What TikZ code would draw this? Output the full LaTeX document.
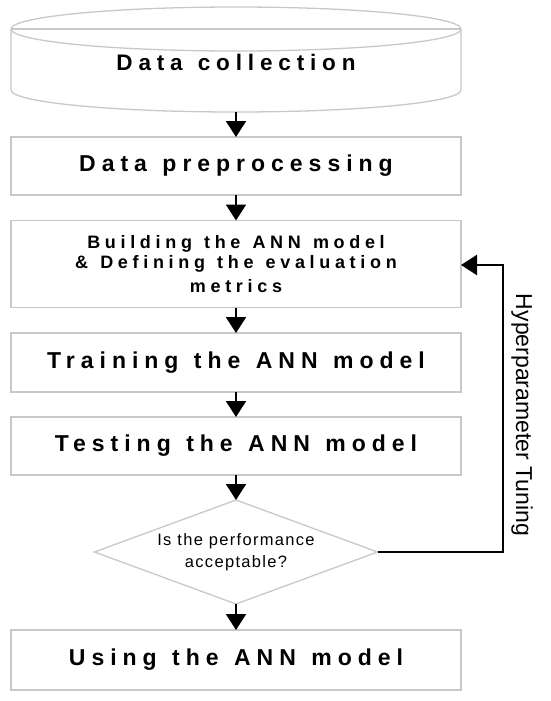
\documentclass[tikz,border=0pt]{standalone}
\usepackage{fontspec}
\setmainfont{Liberation Sans}
\newfontfamily\ttlfont{Liberation Sans}[LetterSpace=26,WordSpace=1.25]
\newfontfamily\diafont{Liberation Sans}[LetterSpace=8]
\usetikzlibrary{arrows.meta,shapes.geometric}
\definecolor{boxgray}{HTML}{C8C8C8}
\begin{document}
\begin{tikzpicture}[x=1pt,y=-1pt,
  stepbox/.style={draw=boxgray,line width=1.3pt,minimum width=450pt,minimum height=#1,
    inner sep=0pt,outer sep=0pt,align=center,
    font={\ttlfont\bfseries\fontsize{23}{26}\selectfont}},
  smalltitle/.style={font={\ttlfont\bfseries\fontsize{18}{19.5}\selectfont}},
  decision/.style={draw=boxgray,line width=1.3pt,shape=diamond,aspect=2.72,
    minimum width=283pt,minimum height=104pt,inner sep=0pt,outer sep=0pt,align=center,
    font={\diafont\fontsize{16.5}{22}\selectfont}},
  flow/.style={line width=2pt,-{Triangle[width=20pt,length=16pt]}},
  cyl/.style={draw=boxgray,line width=1.3pt}]
\useasboundingbox (0,0) rectangle (550,701);
% cylinder
\draw[cyl] (236,29) ellipse [x radius=225pt, y radius=22pt];
\draw[cyl] (11,29) -- (461,29);
\draw[cyl] (11,29) -- (11,90) arc[start angle=180,end angle=360,x radius=225pt,y radius=22pt] -- (461,29);
\node[font={\ttlfont\bfseries\fontsize{22.5}{26}\selectfont}] (coll) at (236,62) {Data collection};
\coordinate (collbot) at (236,112);
% boxes
\node[stepbox=58pt] (pre) at (236,166) {Data preprocessing};
\node[stepbox=87pt,smalltitle] (build) at (236,264) {Building the ANN model\\ \& Defining the evaluation\\[4.5pt] metrics};
\node[stepbox=59pt] (train) at (236,362.5) {Training the ANN model};
\node[stepbox=58pt] (test) at (236,446) {Testing the ANN model};
\node[decision] (dec) at (236,552) {Is the performance\\acceptable?};
\node[stepbox=60pt] (use) at (236,660) {Using the ANN model};
% arrows
\draw[flow] (collbot) -- (pre.north);
\draw[flow] (pre.south) -- (build.north);
\draw[flow] (build.south) -- (train.north);
\draw[flow] (train.south) -- (test.north);
\draw[flow] (test.south) -- (dec.north);
\draw[flow] (dec.south) -- (use.north);
% feedback
\coordinate (fbtop) at (503,265);
\draw[flow] (dec.east) -| (fbtop) -- (build.east |- fbtop);
\node[rotate=-90,font={\fontsize{23}{26}\selectfont}] (tune) at (522,415) {Hyperparameter Tuning};
\end{tikzpicture}
\end{document}
